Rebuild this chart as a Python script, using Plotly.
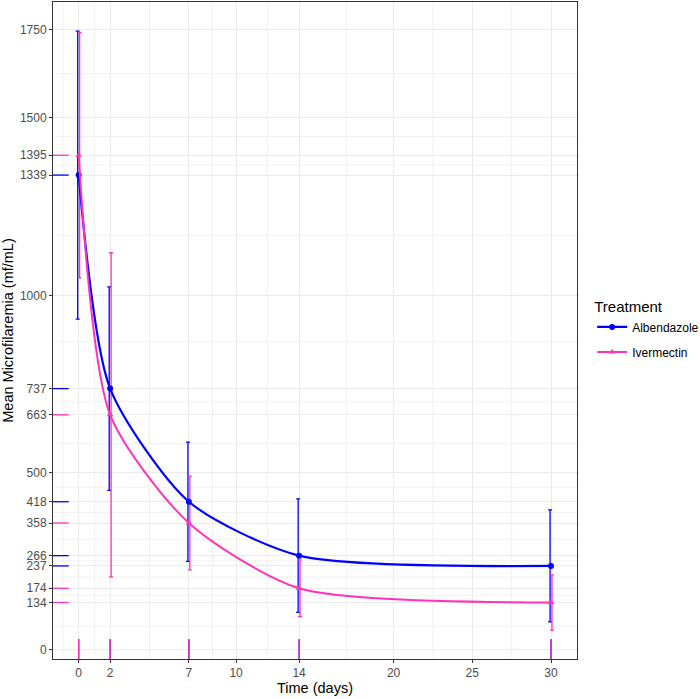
import plotly.graph_objects as go

days = [0, 2, 7, 14, 30]
alb_mean = [1339, 737, 418, 266, 237]
alb_err = [406, 287, 168, 160, 158]
iver_mean = [1395, 663, 358, 174, 134]
iver_err = [346, 457, 132, 80, 78]

x_ticks = [0, 2, 7, 10, 14, 20, 25, 30]
y_ticks = [0, 134, 174, 237, 266, 358, 418, 500, 663, 737, 1000, 1339, 1395, 1500, 1750]

BLUE = "#0000FF"
PINK = "#FF33B8"
DODGE = 0.06
FONT = "Liberation Sans"

x_range = [-1.63, 31.65]
y_range = [-25.4, 1827]

def midpoints(t, lo, hi):
    s = sorted(t)
    step0 = s[1] - s[0]
    step1 = s[-1] - s[-2]
    cand = [s[0] - step0 / 2] + [(a + b) / 2 for a, b in zip(s[:-1], s[1:])] + [s[-1] + step1 / 2]
    return [c for c in cand if lo < c < hi]

fig = go.Figure()

# error bars (dodged)
fig.add_trace(go.Scatter(
    x=[d - DODGE for d in days], y=alb_mean, mode="markers",
    marker=dict(size=1, color=BLUE),
    error_y=dict(type="data", array=alb_err, color=BLUE, thickness=1.3, width=2),
    showlegend=False, hoverinfo="skip"))
fig.add_trace(go.Scatter(
    x=[d + DODGE for d in days], y=iver_mean, mode="markers",
    marker=dict(size=1, color=PINK),
    error_y=dict(type="data", array=iver_err, color=PINK, thickness=1.3, width=2),
    showlegend=False, hoverinfo="skip"))

# main lines
fig.add_trace(go.Scatter(
    x=days, y=alb_mean, mode="lines+markers", name="Albendazole",
    line=dict(color=BLUE, width=2.2, shape="spline", smoothing=0.7),
    marker=dict(symbol="circle", size=6, color=BLUE),
    legendgroup="a"))
fig.add_trace(go.Scatter(
    x=days, y=iver_mean, mode="lines+markers", name="Ivermectin",
    line=dict(color=PINK, width=2.0, shape="spline", smoothing=0.7),
    marker=dict(symbol="triangle-up", size=6, color=PINK),
    legendgroup="b"))

shapes = []
# minor grid lines
for v in midpoints(x_ticks, *x_range):
    shapes.append(dict(type="line", xref="x", yref="y domain", x0=v, x1=v, y0=0, y1=1,
                       line=dict(color="#F1F1F1", width=1), layer="below"))
for v in midpoints(y_ticks, *y_range):
    shapes.append(dict(type="line", xref="x domain", yref="y", x0=0, x1=1, y0=v, y1=v,
                       line=dict(color="#F1F1F1", width=1), layer="below"))

# rugs
for vals, col in ((alb_mean, BLUE), (iver_mean, PINK)):
    for v in vals:
        shapes.append(dict(type="line", xref="x domain", yref="y", x0=0, x1=0.03, y0=v, y1=v,
                           line=dict(color=col, width=1.3)))
for col in (BLUE, PINK):
    for d in days:
        shapes.append(dict(type="line", xref="x", yref="y domain", x0=d, x1=d, y0=0, y1=0.03,
                           line=dict(color=col, width=1.3)))

fig.update_layout(
    width=700, height=699,
    margin=dict(l=53, r=123, t=2, b=40, autoexpand=False),
    paper_bgcolor="white", plot_bgcolor="white",
    font=dict(family=FONT, size=12, color="#000000"),
    shapes=shapes,
    legend=dict(
        title=dict(text="Treatment", font=dict(family=FONT, size=15, color="#000000")),
        xref="container", x=0.846, xanchor="left", yref="container", y=0.581, yanchor="top",
        font=dict(family=FONT, size=12, color="#000000"),
        tracegroupgap=6, bgcolor="rgba(0,0,0,0)"),
    showlegend=True,
)

axis_common = dict(
    showline=True, linecolor="#333333", linewidth=1, mirror=True,
    showgrid=True, gridcolor="#EBEBEB", gridwidth=1,
    ticks="outside", ticklen=3, tickcolor="#333333", tickwidth=1,
    tickfont=dict(family=FONT, size=12, color="#4D4D4D"), zeroline=False,
)
fig.update_xaxes(range=x_range, tickmode="array", tickvals=x_ticks,
                 ticktext=[str(v) for v in x_ticks],
                 title=dict(text="Time (days)", font=dict(family=FONT, size=14.5, color="#000000"), standoff=3),
                 **axis_common)
fig.update_yaxes(range=y_range, tickmode="array", tickvals=y_ticks,
                 ticktext=[str(v) for v in y_ticks],
                 title=dict(text="Mean Microfilaremia (mf/mL)", font=dict(family=FONT, size=14.5, color="#000000"), standoff=2),
                 **axis_common)

fig.write_html("out.html")
